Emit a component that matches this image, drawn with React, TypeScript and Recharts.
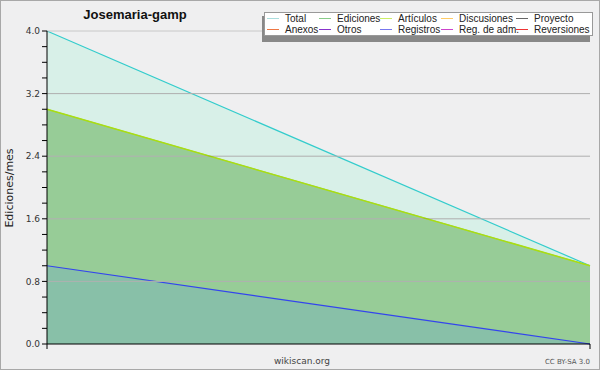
import React from "react";
import { ComposedChart, Area, Line, XAxis, YAxis, ReferenceLine } from "recharts";

// puntos del periodo (inicio / fin)
const periods = [0, 1];
const totalValues = [4.0, 1.0];
const edicionesValues = [3.0, 1.0];
const articulosValues = [3.0, 1.0];
const registrosValues = [1.0, 0.0];

const yTicks = [0, 0.2, 0.4, 0.6, 0.8, 1.0, 1.2, 1.4, 1.6, 1.8, 2.0, 2.2, 2.4, 2.6, 2.8, 3.0, 3.2, 3.4, 3.6, 3.8, 4.0];
const yMajorTicks = [0, 0.8, 1.6, 2.4, 3.2, 4.0];

const legendRow1 = ["Total", "Ediciones", "Artículos", "Discusiones", "Proyecto"];
const legendRow2 = ["Anexos", "Otros", "Registros", "Reg. de adm.", "Reversiones"];
const legendColors1 = ["#aadddd", "#88cc88", "#ccee66", "#ffcc66", "#666666"];
const legendColors2 = ["#ee7744", "#8833cc", "#7777ee", "#cc44cc", "#ee3333"];

const data = periods.map((x, i) => ({
    x,
    total: totalValues[i],
    ediciones: edicionesValues[i],
    articulos: articulosValues[i],
    registros: registrosValues[i],
}));

const FONT = "'DejaVu Sans', sans-serif";
const NARROW = "'Liberation Sans', Arial, sans-serif";
const legendX = [267, 319, 380, 441, 516];

const App = () => {
    return (
        <div style={{ position: "absolute", left: 0, top: 0, width: 600, height: 370, background: "#efeff0", fontFamily: FONT }}>
            <ComposedChart width={600} height={370} data={data} margin={{ top: 31, right: 10, bottom: 0, left: 0 }}>
                <XAxis
                    dataKey="x"
                    type="number"
                    domain={[0, 1]}
                    ticks={periods}
                    tickFormatter={() => ""}
                    height={26}
                    tickSize={5}
                    axisLine={{ stroke: "#000" }}
                    tickLine={{ stroke: "#000" }}
                />
                <YAxis
                    type="number"
                    domain={[0, 4]}
                    ticks={yTicks}
                    interval={0}
                    width={47}
                    tickSize={5}
                    tickMargin={2}
                    axisLine={{ stroke: "#000" }}
                    tickLine={{ stroke: "#000" }}
                    tick={{ fontSize: 9, fill: "#333", fontFamily: FONT }}
                    tickFormatter={(v: number) => (yMajorTicks.some(m => Math.abs(m - v) < 1e-6) ? v.toFixed(1) : "")}
                />
                {yMajorTicks.slice(1).map(v => (
                    <ReferenceLine key={"bg" + v} y={v} stroke="#c8c8c8" />
                ))}
                <Area type="linear" dataKey="total" stroke="#33cccc" strokeWidth={1.2} fill="#d8f0e8" fillOpacity={1} isAnimationActive={false} dot={false} />
                <Area type="linear" dataKey="ediciones" stroke="#88cc88" fill="#97cc97" fillOpacity={1} isAnimationActive={false} dot={false} />
                <Area type="linear" dataKey="registros" stroke="#3344ee" strokeWidth={1.2} fill="#88c0a8" fillOpacity={1} isAnimationActive={false} dot={false} />
                <Line type="linear" dataKey="articulos" stroke="#aadd11" strokeWidth={1.5} dot={false} isAnimationActive={false} />
                {yMajorTicks.slice(1, 5).map(v => (
                    <ReferenceLine key={v} y={v} stroke="#000" strokeOpacity={0.12} />
                ))}
            </ComposedChart>
            <svg width={600} height={370} style={{ position: "absolute", left: 0, top: 0, pointerEvents: "none" }}>
                <rect x={0.5} y={0.5} width={599} height={369} fill="none" stroke="#a8a8a8" />
                <text x={135} y={19} textAnchor="middle" fontSize={13} fontWeight="bold" fill="#111" fontFamily={NARROW}>
                    Josemaria-gamp
                </text>
                <text transform="translate(13,188) rotate(-90)" textAnchor="middle" fontSize={11} fill="#222" fontFamily={FONT}>
                    Ediciones/mes
                </text>
                <text x={302} y={364} textAnchor="middle" fontSize={9} fill="#444" fontFamily={FONT}>wikiscan.org</text>
                <text x={590} y={364} textAnchor="end" fontSize={7} fill="#555" fontFamily={FONT}>CC BY-SA 3.0</text>
                {/* leyenda */}
                <rect x={262} y={16} width={328} height={26} fill="#888" />
                <rect x={264.5} y={12.5} width={328} height={23} fill="#fff" stroke="#999" />
                {legendRow1.map((name, i) => (
                    <g key={name}>
                        <line x1={legendX[i]} x2={legendX[i] + 12} y1={18.5} y2={18.5} stroke={legendColors1[i]} />
                        <text x={legendX[i] + 18} y={22} fontSize={10} fill="#222" fontFamily={NARROW}>{name}</text>
                    </g>
                ))}
                {legendRow2.map((name, i) => (
                    <g key={name}>
                        <line x1={legendX[i]} x2={legendX[i] + 12} y1={29.5} y2={29.5} stroke={legendColors2[i]} />
                        <text x={legendX[i] + 18} y={33} fontSize={10} fill="#222" fontFamily={NARROW}>{name}</text>
                    </g>
                ))}
            </svg>
        </div>
    );
};

export default App;
